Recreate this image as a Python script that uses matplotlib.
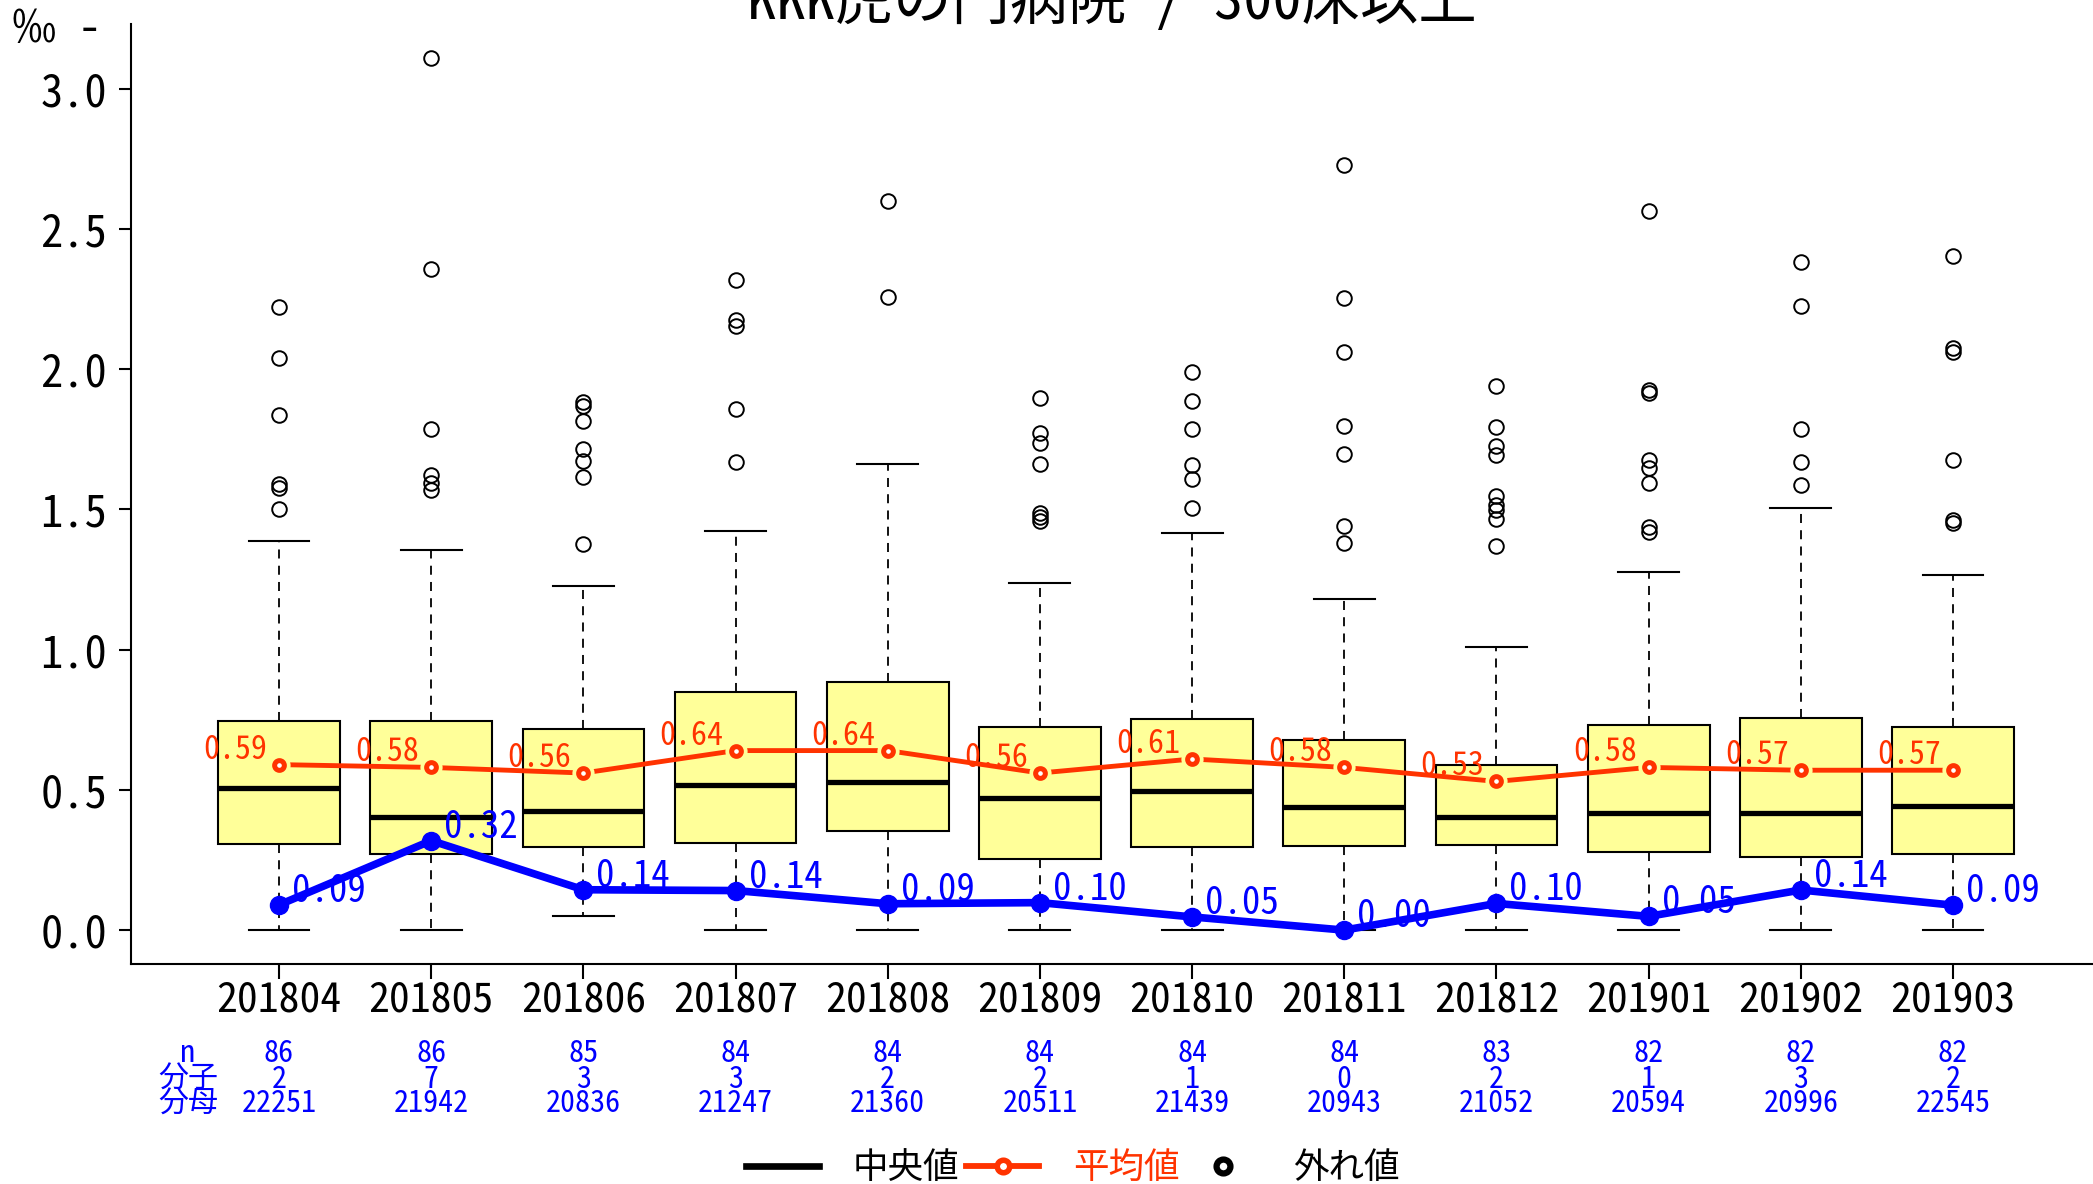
import matplotlib
matplotlib.use("Agg")
import matplotlib.pyplot as plt
from matplotlib.lines import Line2D
from matplotlib.transforms import blended_transform_factory

plt.rcParams['font.family'] = ['Noto Sans Mono CJK JP', 'Noto Sans CJK JP', 'DejaVu Sans']

title = "KKK虎の門病院 / 300床以上"
months = ["201804", "201805", "201806", "201807", "201808", "201809",
          "201810", "201811", "201812", "201901", "201902", "201903"]
n_hosp = [86, 86, 85, 84, 84, 84, 84, 84, 83, 82, 82, 82]
numer = [2, 7, 3, 3, 2, 2, 1, 0, 2, 1, 3, 2]
denom = [22251, 21942, 20836, 21247, 21360, 20511, 21439, 20943, 21052, 20594, 20996, 22545]

# box statistics (per mille)
q1 = [0.308, 0.273, 0.296, 0.312, 0.352, 0.252, 0.295, 0.300, 0.302, 0.279, 0.259, 0.272]
med = [0.506, 0.403, 0.423, 0.519, 0.529, 0.471, 0.495, 0.438, 0.404, 0.416, 0.417, 0.443]
q3 = [0.744, 0.746, 0.716, 0.849, 0.886, 0.724, 0.752, 0.676, 0.587, 0.730, 0.756, 0.725]
whis_lo = [0.0, 0.0, 0.051, 0.0, 0.0, 0.0, 0.0, 0.0, 0.0, 0.0, 0.0, 0.0]
whis_hi = [1.386, 1.356, 1.225, 1.421, 1.663, 1.238, 1.415, 1.179, 1.009, 1.277, 1.504, 1.265]
outliers = [
    [2.223, 2.040, 1.837, 1.591, 1.575, 1.501],
    [3.110, 2.357, 1.785, 1.622, 1.595, 1.568],
    [1.882, 1.868, 1.815, 1.715, 1.673, 1.616, 1.377],
    [2.318, 2.175, 2.154, 1.858, 1.667],
    [2.600, 2.257],
    [1.898, 1.772, 1.736, 1.663, 1.486, 1.472, 1.459],
    [1.988, 1.886, 1.787, 1.659, 1.609, 1.504],
    [2.728, 2.253, 2.062, 1.796, 1.696, 1.442, 1.379],
    [1.940, 1.794, 1.725, 1.695, 1.549, 1.516, 1.499, 1.466, 1.368],
    [2.563, 1.927, 1.916, 1.677, 1.647, 1.595, 1.438, 1.420],
    [2.381, 2.225, 1.785, 1.667, 1.586],
    [2.402, 2.075, 2.062, 1.675, 1.461, 1.452],
]
mean_vals = [0.59, 0.58, 0.56, 0.64, 0.64, 0.56, 0.61, 0.58, 0.53, 0.58, 0.57, 0.57]
hosp_vals = [0.090, 0.319, 0.144, 0.141, 0.094, 0.098, 0.047, 0.000, 0.095, 0.049, 0.143, 0.089]

RED = "#FF3300"
BLUE = "#0000FF"
BOXCOL = "#FFFF99"

fig = plt.figure(figsize=(20.93, 11.84), dpi=100)
ax = fig.add_axes([0.0625, 0.186, 0.9375, 0.7937])

pos = list(range(1, len(months) + 1))
stats = []
for i in range(len(months)):
    stats.append(dict(med=med[i], q1=q1[i], q3=q3[i], whislo=whis_lo[i],
                      whishi=whis_hi[i], fliers=outliers[i], label=months[i]))

ax.bxp(stats, positions=pos, widths=0.8, capwidths=0.4, patch_artist=True,
       boxprops=dict(facecolor=BOXCOL, edgecolor="black", linewidth=1.5),
       medianprops=dict(color="black", linewidth=3.8),
       whiskerprops=dict(color="black", linewidth=1.3, linestyle=(0, (5, 4))),
       capprops=dict(color="black", linewidth=1.5),
       flierprops=dict(marker="o", markersize=10.5, markerfacecolor="none",
                       markeredgecolor="black", markeredgewidth=1.4))

# mean line with gaps around points
ax.plot(pos, mean_vals, color=RED, lw=3.5, zorder=3)
ax.plot(pos, mean_vals, ls="none", marker="o", ms=16, mfc=BOXCOL, mec="none", zorder=3.1)
ax.plot(pos, mean_vals, ls="none", marker="o", ms=7, mfc="white", mec=RED, mew=3.6, zorder=3.2)
for x, v in zip(pos, mean_vals):
    ax.annotate(f"{v:.2f}", (x, v), xytext=(-12, -1), textcoords="offset pixels",
                ha="right", va="bottom", color=RED, fontsize=23, zorder=5)

# this hospital
ax.plot(pos, hosp_vals, color=BLUE, lw=5.5, marker="o", ms=13, zorder=4)
for x, v in zip(pos, hosp_vals):
    ax.annotate(f"{v:.2f}", (x, v), xytext=(13, -5), textcoords="offset pixels",
                ha="left", va="bottom", color=BLUE, fontsize=26.5, zorder=5)

ax.set_xlim(0.026, 12.92)
ax.set_ylim(-0.12, 3.23)
ax.set_xticks(pos)
ax.set_xticklabels(months, fontsize=30)
yt = [0, 0.5, 1.0, 1.5, 2.0, 2.5, 3.0]
ax.set_yticks(yt)
ax.set_yticklabels([f"{v:.1f}" for v in yt], fontsize=32)
ax.tick_params(axis="y", length=8.6, width=1.5, pad=8.6)
ax.tick_params(axis="x", length=11, width=1.5, pad=0)
ax.spines["top"].set_visible(False)
ax.spines["right"].set_visible(False)
ax.spines["left"].set_linewidth(1.5)
ax.spines["bottom"].set_linewidth(1.5)

fig.text(12 / 2093, 1 - 29 / 1184, "‰ -", ha="left", va="center", fontsize=32)
fig.text(1112 / 2093, 1 - 19 / 1184, title, ha="center", va="baseline", fontsize=42)

# n / numerator / denominator table
tr = blended_transform_factory(ax.transData, fig.transFigure)
row_y = [1 - 1053 / 1184, 1 - 1079 / 1184, 1 - 1104 / 1184]
row_names = ["n", "分子", "分母"]
rows = [n_hosp, numer, denom]
for name, y, vals in zip(row_names, row_y, rows):
    fig.text(188 / 2093, y, name, ha="center", va="center", color=BLUE, fontsize=21.6)
    for x, v in zip(pos, vals):
        ax.text(x, y, str(v), transform=tr, ha="center", va="center",
                color=BLUE, fontsize=21.6)

handles = [
    Line2D([], [], color="black", lw=4.8),
    Line2D([], [], color=RED, lw=4.2, marker="o", ms=9, mfc="white", mec=RED, mew=4),
    Line2D([], [], ls="none", marker="o", ms=10, mfc="white", mec="black", mew=4.5),
]
leg = fig.legend(handles, ["中央値", "平均値", "外れ値"], loc="center",
                 bbox_to_anchor=(1073 / 2093, 1 - 1168 / 1184), ncol=3, frameon=False,
                 handlelength=2.05, handletextpad=0.95, columnspacing=0.2, fontsize=25.6)
leg.get_texts()[1].set_color(RED)

fig.savefig("out.png", dpi=100)
